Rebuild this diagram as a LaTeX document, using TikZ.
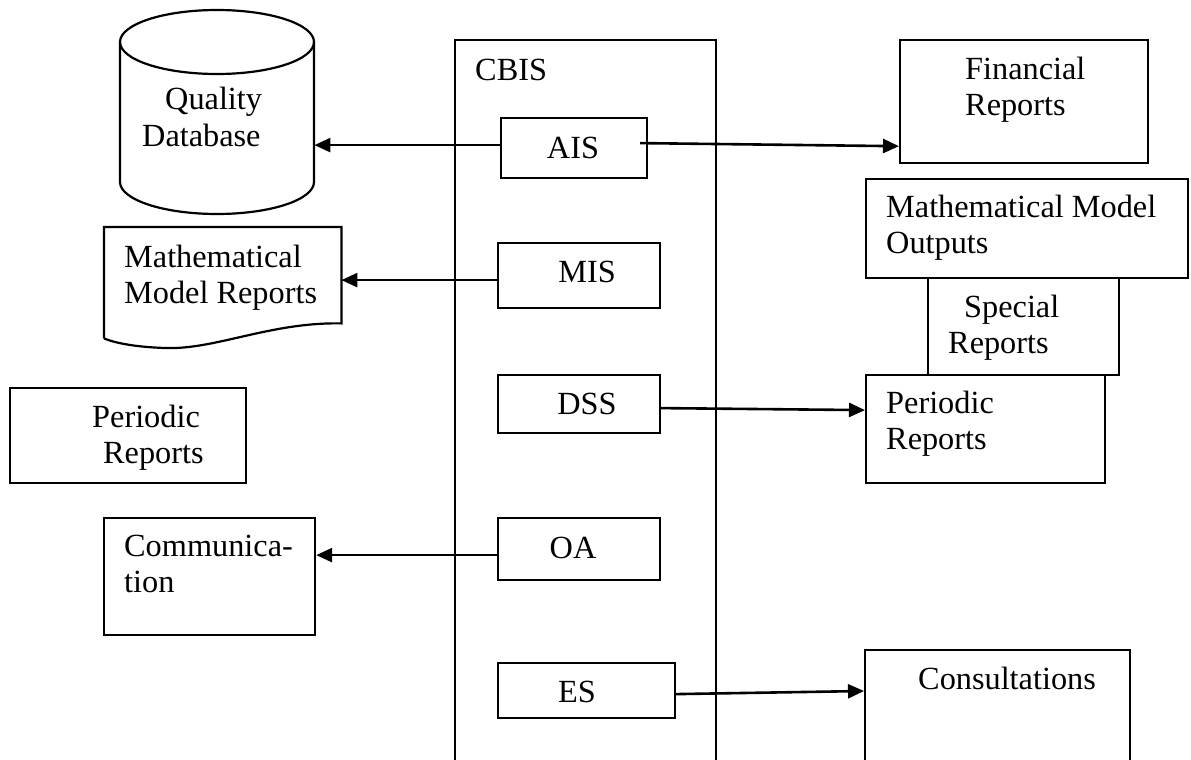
\documentclass[tikz,border=0pt]{standalone}
\usepackage{fontspec}
\setmainfont{Liberation Serif}
\usetikzlibrary{arrows.meta}

\begin{document}
\begin{tikzpicture}[x=1pt, y=-1pt,
  box/.style={draw, line width=2.2pt, inner sep=0pt, anchor=north west},
  area/.style={inner sep=0pt, anchor=north west},
  lbl/.style={inner sep=0pt, anchor=base west, font=\fontsize{32.3pt}{36.5pt}\selectfont},
  clbl/.style={inner sep=0pt, anchor=base, font=\fontsize{32.3pt}{36.5pt}\selectfont},
  arr/.style={line width=2.6pt, -{Triangle[length=16pt, width=14pt]}}]

\useasboundingbox (0,0) rectangle (1191,760);
\clip (0,0) rectangle (1191,760);

% ---------- CBIS column with its subsystems ----------
\node[box, minimum width=261pt, minimum height=780pt] (cbis) at (454,39) {};
\node[lbl] (cbisT) at (475,81) {CBIS};

\node[box, minimum width=146pt, minimum height=60pt] (ais) at (500,117) {};
\node[box, minimum width=162pt, minimum height=65pt] (mis) at (497,242) {};
\node[box, minimum width=162pt, minimum height=58pt] (dss) at (497,374) {};
\node[box, minimum width=162pt, minimum height=62pt] (oa)  at (497,517) {};
\node[box, minimum width=177pt, minimum height=55pt] (es)  at (497,662) {};

\node[clbl] (aisT) at (573,158) {AIS};
\node[clbl] (misT) at (587,282) {MIS};
\node[clbl] (dssT) at (587,414) {DSS};
\node[clbl] (oaT)  at (573,558) {OA};
\node[clbl] (esT)  at (577,702) {ES};

% ---------- left side ----------
% Quality Database (cylinder)
\node[area, minimum width=194pt, minimum height=172pt] (qdb) at (120,42) {};
\draw[line width=2.2pt] (217,42) ellipse [x radius=97pt, y radius=32pt];
\draw[line width=2.2pt] (120,42) -- (120,182)
  arc [start angle=180, end angle=360, x radius=97pt, y radius=32pt]
  -- (314,42);
\node[lbl] (qdbT) at (142,110) {\begin{tabular}[t]{@{}l@{}}\hspace*{23pt}Quality\\Database\end{tabular}};

% Mathematical Model Reports (document shape)
\node[area, minimum width=237pt, minimum height=96pt] (mmr) at (104,227) {};
\draw[line width=2.2pt] (mmr.south west) ++(0,-15pt) coordinate (mmrbl)
  -- (mmr.north west) -- (mmr.north east) -- (mmr.south east)
  .. controls (270,322) and (215,350) .. (165,348)
  .. controls (135,347) and (115,343) .. (mmrbl);
\node[lbl] (mmrT) at (124,267) {\begin{tabular}[t]{@{}l@{}}Mathematical\\Model Reports\end{tabular}};

\node[box, minimum width=236pt, minimum height=95pt] (perL) at (9,387) {};
\node[lbl] (perLT) at (92,427) {\begin{tabular}[t]{@{}l@{}}Periodic\\\hspace*{11pt}Reports\end{tabular}};

\node[box, minimum width=211pt, minimum height=117pt] (comm) at (103,517) {};
\node[lbl] (commT) at (124,556) {\begin{tabular}[t]{@{}l@{}}Communica-\\tion\end{tabular}};

% ---------- right side ----------
\node[box, minimum width=248pt, minimum height=123pt] (fin) at (899,39) {};
\node[lbl] (finT) at (965,79) {\begin{tabular}[t]{@{}l@{}}Financial\\Reports\end{tabular}};

\node[box, minimum width=322pt, minimum height=99pt] (mmo) at (865,178) {};
\node[lbl] (mmoT) at (886,217) {\begin{tabular}[t]{@{}l@{}}Mathematical Model\\Outputs\end{tabular}};

\node[box, minimum width=191pt, minimum height=97pt] (spec) at (927,277) {};
\node[lbl] (specT) at (948,317) {\begin{tabular}[t]{@{}l@{}}\hspace*{16pt}Special\\Reports\end{tabular}};

\node[box, minimum width=239pt, minimum height=108pt] (perR) at (865,374) {};
\node[lbl] (perRT) at (886,413) {\begin{tabular}[t]{@{}l@{}}Periodic\\Reports\end{tabular}};

\node[box, minimum width=265pt, minimum height=150pt] (cons) at (864,649) {};
\node[lbl] (consT) at (918,689) {Consultations};

% ---------- connectors ----------
\draw[arr] ([yshift=3pt]ais.west) -- ([yshift=3pt]ais.west -| qdb.east);
\draw[arr] ([xshift=-8pt, yshift=5pt]ais.east) -- ([yshift=18pt]fin.south west);
\draw[arr] ([yshift=-4.5pt]mis.west) -- ([yshift=-4.5pt]mis.west -| mmr.east);
\draw[arr] ([yshift=-4pt]dss.east) -- ([yshift=19pt]perR.west);
\draw[arr] ([yshift=-6pt]oa.west) -- ([yshift=-6pt]oa.west -| comm.east);
\draw[arr] ([yshift=-3.5pt]es.east) -- ([yshift=-42pt]cons.north west);

\end{tikzpicture}
\end{document}
